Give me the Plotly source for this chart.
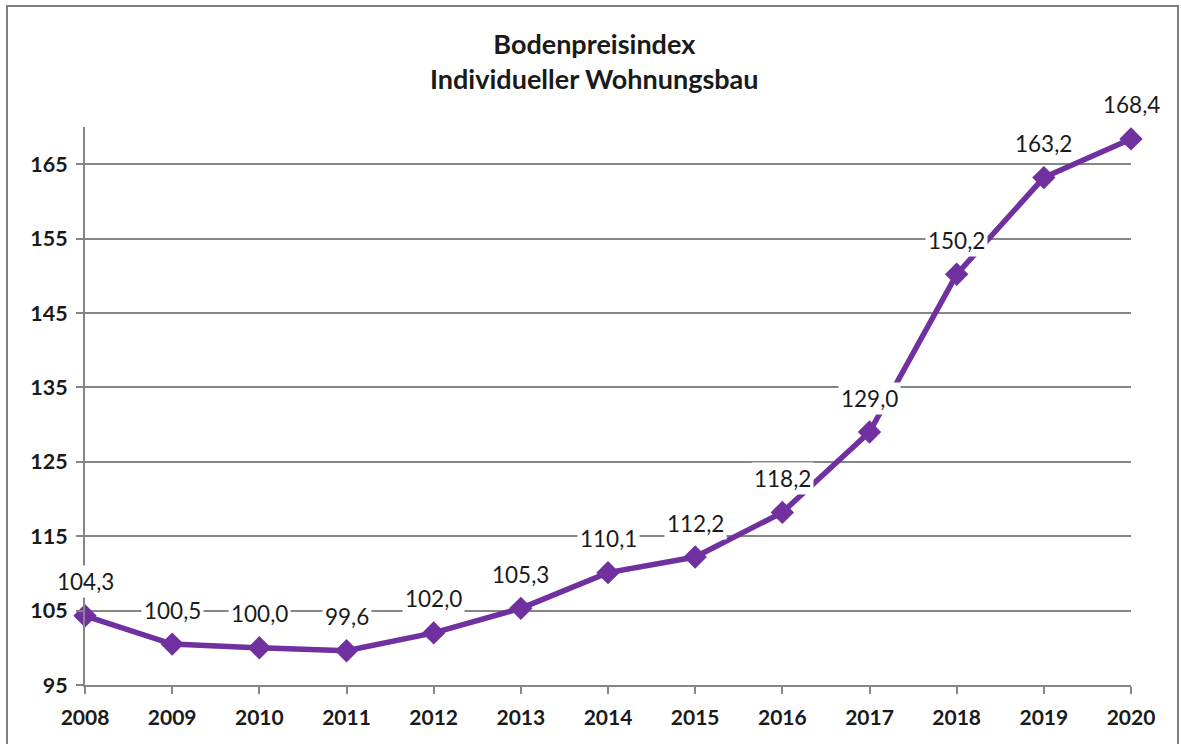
import plotly.graph_objects as go

years = [2008, 2009, 2010, 2011, 2012, 2013, 2014, 2015, 2016, 2017, 2018, 2019, 2020]
index_values = [104.3, 100.5, 100.0, 99.6, 102.0, 105.3, 110.1, 112.2, 118.2, 129.0, 150.2, 163.2, 168.4]
y_ticks = [95, 105, 115, 125, 135, 145, 155, 165]
title_lines = ["Bodenpreisindex", "Individueller Wohnungsbau"]

PURPLE = "#7030A0"
GREY = "#868686"
FONT = "Lato, Open Sans, sans-serif"

fig = go.Figure()
fig.add_trace(go.Scatter(
    x=years, y=index_values, mode="lines+markers",
    line=dict(color=PURPLE, width=5.5),
    marker=dict(symbol="diamond", size=18, color=PURPLE),
    cliponaxis=False, showlegend=False, hoverinfo="x+y",
))

for x, v in zip(years, index_values):
    fig.add_annotation(
        x=x, y=v, xref="x", yref="y",
        text=f"{v:.1f}".replace(".", ","),
        showarrow=False, yanchor="middle", yshift=34,
        bgcolor="white", borderpad=2,
        font=dict(family=FONT, size=22.5, color="#1a1a1a"),
    )

W, H = 1181, 744
ml, mr, mt, mb = 85, 50, 127, 59
pw, ph = W - ml - mr, H - mt - mb

def px_x(p):
    return (p - ml) / pw

def px_y(p):
    return (H - mb - p) / ph

fig.add_shape(type="rect", xref="paper", yref="paper",
              x0=px_x(7), x1=px_x(1178), y0=px_y(760), y1=px_y(6),
              line=dict(color="#7f7f7f", width=2), fillcolor="rgba(0,0,0,0)", layer="below")

fig.add_annotation(
    xref="paper", yref="paper", x=px_x(594), y=px_y(61),
    text="<b>" + "<br>".join(title_lines) + "</b>", showarrow=False,
    xanchor="center", yanchor="middle",
    font=dict(family=FONT, size=27, color="#1a1a1a"),
)

fig.update_layout(
    width=W, height=H,
    margin=dict(l=ml, r=mr, t=mt, b=mb, autoexpand=False),
    paper_bgcolor="white", plot_bgcolor="white",
    font=dict(family=FONT, color="#1a1a1a"),
    separators=",.",
)
fig.update_xaxes(
    range=[2008, 2020], tickmode="array", tickvals=years, ticktext=[str(y) for y in years],
    showgrid=False, showline=True, linecolor=GREY, linewidth=2,
    ticks="outside", ticklen=7, tickwidth=2, tickcolor=GREY, ticklabelstandoff=6,
    tickfont=dict(family=FONT, size=21, weight="bold", color="#1a1a1a"),
    zeroline=False, fixedrange=True,
)
fig.update_yaxes(
    range=[95, 170], tickmode="array", tickvals=y_ticks,
    showgrid=True, gridcolor=GREY, gridwidth=2,
    showline=True, linecolor=GREY, linewidth=2,
    ticks="outside", ticklen=7, tickwidth=2, tickcolor=GREY, ticklabelstandoff=4,
    tickfont=dict(family=FONT, size=21.5, weight="bold", color="#1a1a1a"),
    zeroline=False, fixedrange=True,
)

fig.write_html(
    "out.html",
    config={"displayModeBar": False},
    post_script="document.body.style.margin='0';document.body.style.overflow='hidden';",
)
